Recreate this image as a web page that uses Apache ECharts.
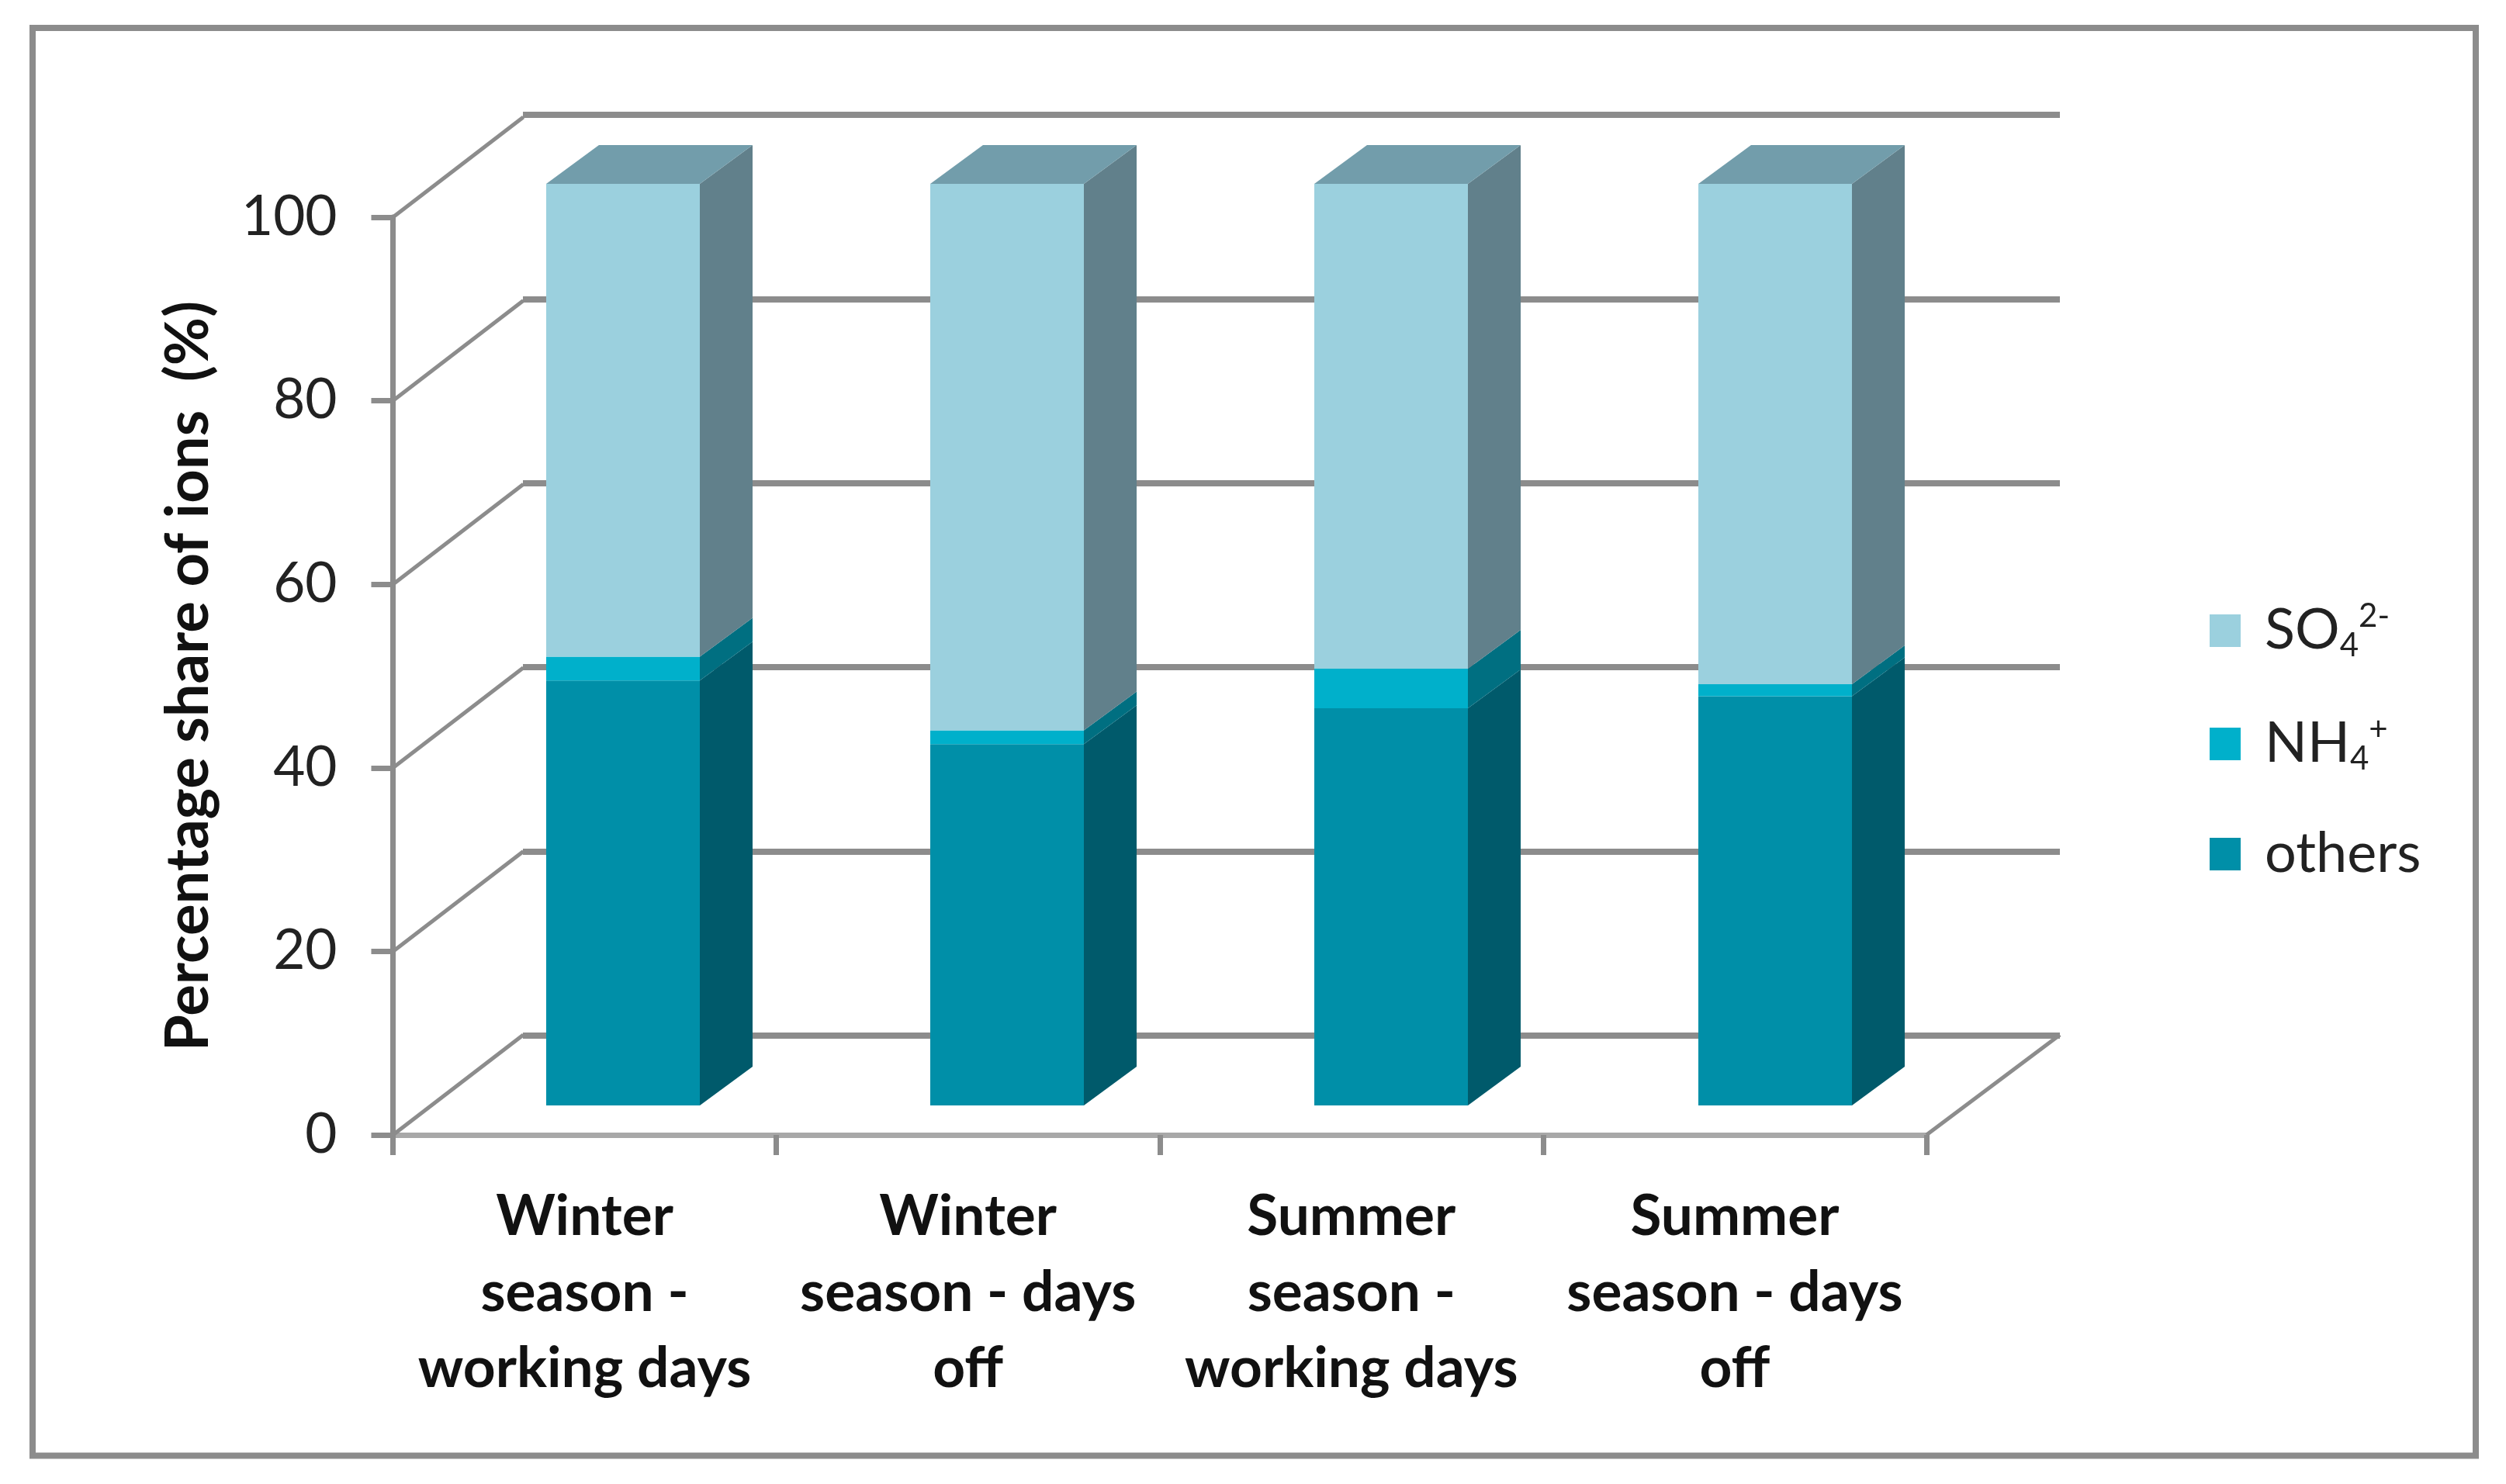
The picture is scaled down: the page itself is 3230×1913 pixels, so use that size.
<!DOCTYPE html>
<html><head><meta charset="utf-8">
<style>html,body{margin:0;padding:0;background:#fff}#c{width:3230px;height:1913px}</style>
<script src="https://cdn.jsdelivr.net/npm/echarts@6/dist/echarts.min.js"></script>
</head><body><div id="c"></div>
<script>
const categories = ['Winter\nseason -\nworking days','Winter\nseason - days\noff','Summer\nseason -\nworking days','Summer\nseason - days\noff'];
const others = [46.1, 39.2, 43.1, 44.4];
const nh4 = [2.6, 1.5, 4.3, 1.3];
const so4 = [51.3, 59.3, 52.6, 54.3];
const yTicks = [0, 20, 40, 60, 80, 100];

const WALL_DX = 168, WALL_DY = 129, BAR_DX = 68, BAR_DY = 50, BAR_W = 198;
const GRID = '#8c8c8c';

function barRender(front, side, top, isTop) {
  return function (params, api) {
    const i = api.value(0), lo = api.value(1), hi = api.value(2);
    const c0 = api.coord([i, lo]), c1 = api.coord([i, hi]);
    const xl = c0[0] - BAR_W / 2, xr = c0[0] + BAR_W / 2, yb = c0[1], yt = c1[1];
    const kids = [
      {type:'polygon', shape:{points:[[xr,yt],[xr+BAR_DX,yt-BAR_DY],[xr+BAR_DX,yb-BAR_DY],[xr,yb]]}, style:{fill:side}},
      {type:'rect', shape:{x:xl,y:yt,width:BAR_W,height:yb-yt}, style:{fill:front}}
    ];
    if (isTop) kids.push({type:'polygon', shape:{points:[[xl,yt],[xl+BAR_DX,yt-BAR_DY],[xr+BAR_DX,yt-BAR_DY],[xr,yt]]}, style:{fill:top}});
    return {type:'group', children:kids};
  };
}
function stackData(vals, bases) { return vals.map((v,i)=>[i, bases[i], bases[i]+v]); }
const base2 = others.slice();
const base3 = others.map((v,i)=>v+nh4[i]);

function wallRender(params, api) {
  const v = api.value(1), p = api.coord([0, v]);
  const x0 = params.coordSys.x, x1 = x0 + params.coordSys.width;
  const ls = {stroke:GRID, lineWidth:5};
  const kids = [{type:'line', shape:{x1:x0,y1:p[1],x2:x0+WALL_DX,y2:p[1]-WALL_DY}, style:ls}];
  if (v === 0) kids.push({type:'line', shape:{x1:x1,y1:p[1],x2:x1+WALL_DX+4,y2:p[1]-WALL_DY}, style:ls});
  return {type:'group', children:kids};
}

const FONT = 'Lato';
const chart = echarts.init(document.getElementById('c'), null, {renderer:'canvas'});
chart.setOption({
  animation:false,
  backgroundColor:'#fff',
  graphic:[{type:'rect', z:0, shape:{x:42,y:36,width:3149,height:1840.5}, style:{fill:'none',stroke:GRID,lineWidth:8}}],
  grid:[
    {left:506.5, top:280, width:1976.5, height:1183},
    {left:555.5, top:237, width:1980, height:1188},
    {left:674, top:148, width:1981, height:1187}
  ],
  xAxis:[
    {gridIndex:0, type:'category', data:categories,
      axisLine:{lineStyle:{color:'#a8a8a8',width:7}},
      axisTick:{show:true,length:26,lineStyle:{color:GRID,width:7}},
      axisLabel:{interval:0,margin:56,fontFamily:FONT,fontWeight:'bold',fontSize:73,lineHeight:98,color:'#111'}},
    {gridIndex:1, type:'category', data:categories, show:false},
    {gridIndex:2, type:'value', min:0, max:1, show:true, axisLine:{show:false}, axisTick:{show:false}, axisLabel:{show:false}, splitLine:{show:false}}
  ],
  yAxis:[
    {gridIndex:0, type:'value', min:0, max:100, interval:20,
      name:'Percentage share of ions  (%)', nameLocation:'middle', nameRotate:90, nameGap:225,
      nameTextStyle:{fontFamily:FONT,fontWeight:'bold',fontSize:76,color:'#111'},
      axisLine:{show:true,lineStyle:{color:GRID,width:7}},
      axisTick:{show:true,length:28,lineStyle:{color:GRID,width:7}},
      axisLabel:{margin:72,fontFamily:FONT,fontSize:71,color:'#222'},
      splitLine:{show:false}},
    {gridIndex:1, type:'value', min:0, max:100, interval:20, show:false},
    {gridIndex:2, type:'value', min:0, max:100, interval:20, show:true,
      axisLine:{show:false}, axisTick:{show:false}, axisLabel:{show:false},
      splitLine:{show:true,lineStyle:{color:GRID,width:8}}}
  ],
  legend:{
    orient:'vertical', left:2843, top:768, itemWidth:40, itemHeight:42, itemGap:66, selectedMode:false,
    icon:'rect',
    data:['SO4','NH4','others'],
    formatter:function(n){
      if(n==='SO4') return '{gap| }{b|SO}{sub|4}{sup|2-}';
      if(n==='NH4') return '{gap| }{b|NH}{sub|4}{sup|+}';
      return '{gap| }{b|others}';
    },
    textStyle:{fontFamily:FONT,fontSize:72,color:'#222',rich:{
      gap:{width:26,lineHeight:80,fontSize:20},
      b:{fontFamily:FONT,fontSize:72,color:'#222',lineHeight:80,verticalAlign:'middle'},
      sub:{fontFamily:FONT,fontSize:42,color:'#222',lineHeight:80,verticalAlign:'bottom'},
      sup:{fontFamily:FONT,fontSize:42,color:'#222',lineHeight:80,verticalAlign:'top'}
    }}
  },
  series:[
    {type:'custom', silent:true, xAxisIndex:0, yAxisIndex:0, data:yTicks.map(v=>[0,v]), renderItem:wallRender, z:1},
    {type:'custom', name:'others', xAxisIndex:1, yAxisIndex:1, itemStyle:{color:'#008FA8'},
      data:stackData(others,[0,0,0,0]), renderItem:barRender('#008FA8','#005A6B','#729DAB',false), z:3},
    {type:'custom', name:'NH4', xAxisIndex:1, yAxisIndex:1, itemStyle:{color:'#00B0CB'},
      data:stackData(nh4,base2), renderItem:barRender('#00B0CB','#006F81','#729DAB',false), z:3},
    {type:'custom', name:'SO4', xAxisIndex:1, yAxisIndex:1, itemStyle:{color:'#9BD0DE'},
      data:stackData(so4,base3), renderItem:barRender('#9BD0DE','#61808B','#729DAB',true), z:3}
  ]
});
</script></body></html>
